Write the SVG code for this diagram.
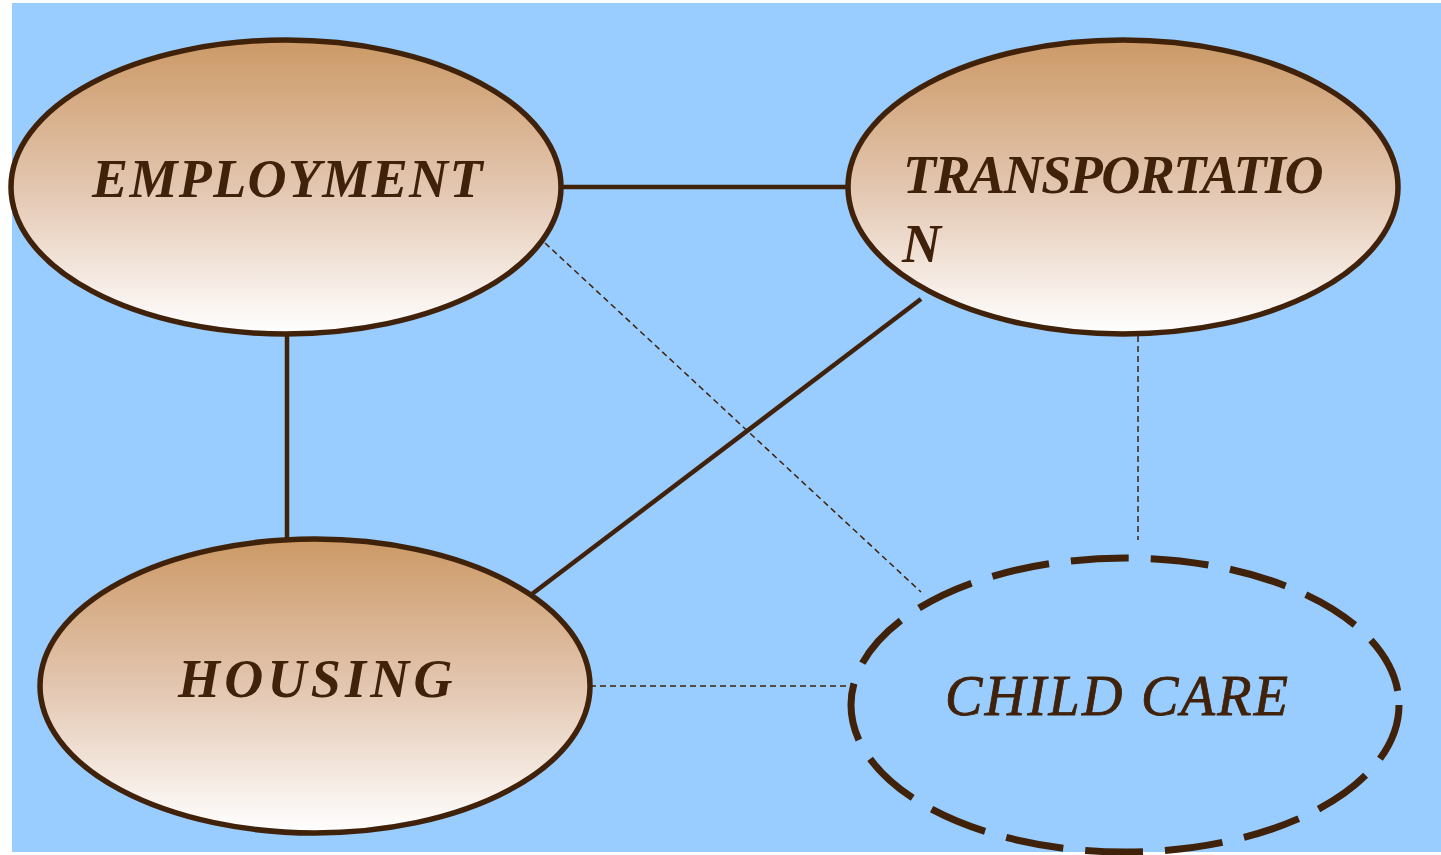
<svg xmlns="http://www.w3.org/2000/svg" width="1441" height="855" viewBox="0 0 1441 855">
<defs>
<linearGradient id="g" x1="0" y1="0" x2="0" y2="1">
<stop offset="0" stop-color="#cc9966"/>
<stop offset="0.5" stop-color="#e3c6b0"/>
<stop offset="1" stop-color="#ffffff"/>
</linearGradient>
<style>
.node{fill:url(#g);stroke:#40220a;stroke-width:5.5}
.dnode{fill:none;stroke:#40220a;stroke-width:7;stroke-dasharray:58 22}
.solid{stroke:#40220a;stroke-width:4.5;fill:none}
.dash{stroke:#40220a;stroke-width:1.5;stroke-dasharray:6 4;fill:none}
.lbl{font-family:"Liberation Serif",serif;font-style:italic;font-weight:bold;font-size:54px;fill:#40220a;letter-spacing:1.5px}
.lbl2{font-family:"Liberation Serif",serif;font-style:italic;font-size:56px;fill:#40220a;stroke:#40220a;stroke-width:0.8}
</style>
</defs>
<rect x="0" y="0" width="1441" height="855" fill="#ffffff"/>
<rect x="12" y="3" width="1429" height="849" fill="#99ccff"/>
<g id="connectors">
<line class="solid" x1="561" y1="187" x2="848" y2="187"/>
<line class="solid" x1="287" y1="334" x2="287" y2="539"/>
<line class="solid" x1="921" y1="299" x2="532" y2="594"/>
<line class="dash" x1="545" y1="243" x2="921" y2="592"/>
<line class="dash" x1="1138" y1="336" x2="1138" y2="540"/>
<line class="dash" x1="590" y1="686" x2="851" y2="686"/>
</g>
<g id="employment">
<ellipse class="node" cx="286" cy="187" rx="275" ry="147"/>
<text class="lbl" x="92" y="197" textLength="392">EMPLOYMENT</text>
</g>
<g id="transportation">
<ellipse class="node" cx="1123" cy="187" rx="275" ry="147"/>
<text class="lbl" x="903" y="193" textLength="422">TRANSPORTATIO</text>
<text class="lbl" x="902" y="262">N</text>
</g>
<g id="housing">
<ellipse class="node" cx="315" cy="686" rx="275" ry="147"/>
<text class="lbl" x="178" y="697" textLength="276">HOUSING</text>
</g>
<g id="childcare">
<ellipse class="dnode" cx="1125" cy="705" rx="274" ry="147"/>
<text class="lbl2" x="945" y="715" textLength="343">CHILD CARE</text>
</g>
</svg>
